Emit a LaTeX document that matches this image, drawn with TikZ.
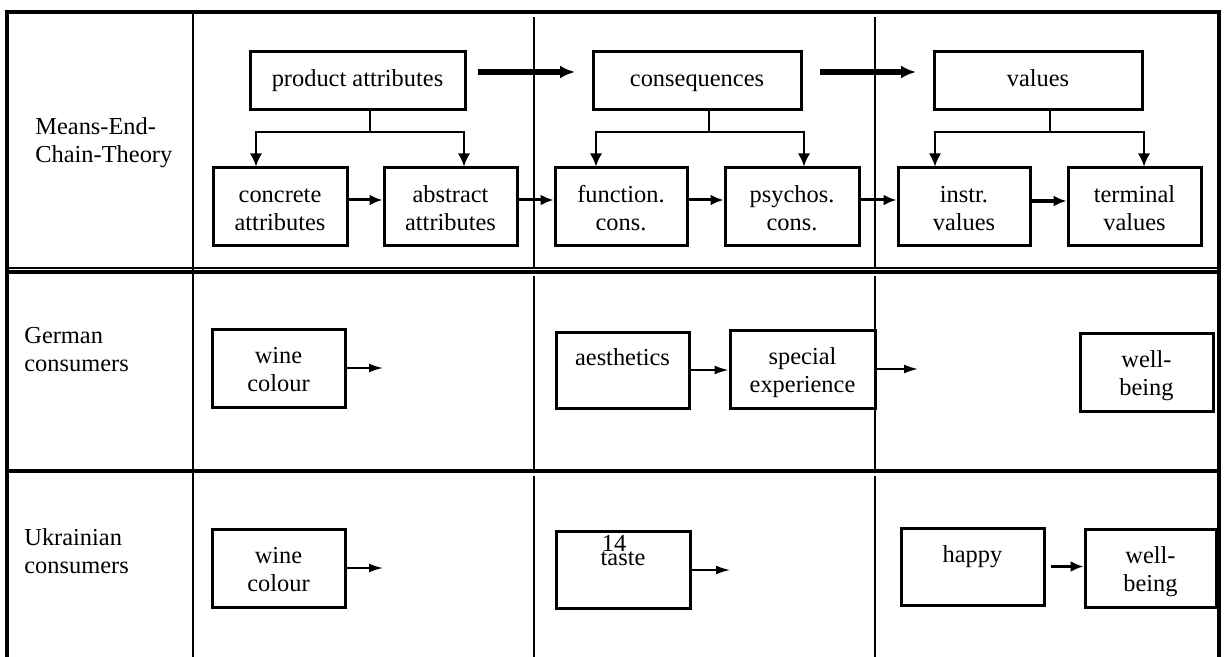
\documentclass[tikz,border=0pt]{standalone}
\usepackage{fontspec}
\setmainfont{Liberation Serif}
\usetikzlibrary{arrows.meta}
\newcommand{\boxlines}[2]{\rule{0pt}{13.8pt}#1\\#2\rule[-4.2pt]{0pt}{4.2pt}}

\begin{document}
\begin{tikzpicture}[x=0.5pt,y=-0.5pt,font=\fontsize{12.2}{14}\selectfont,
    box/.style={draw,line width=1.5pt,align=center,inner sep=0pt,
      minimum width=66.5pt,minimum height=39pt},
    bigbox/.style={draw,line width=1.5pt,inner sep=0pt,
      minimum width=104pt,minimum height=29pt,
      execute at begin node=\strut},
    rowlabel/.style={anchor=west,align=left,inner sep=0pt},
    frame/.style={line width=2pt},
    sep/.style={line width=2.4pt},
    grid/.style={line width=0.6pt},
    fork/.style={line width=0.8pt},
    bigarrow/.style={-{Latex[length=7.5pt,width=6.5pt]},line width=2.6pt},
    droparrow/.style={-{Latex[length=6.5pt,width=6pt]},line width=0.8pt},
    linkarrow/.style={-{Latex[length=6.5pt,width=5.5pt]},line width=1.5pt},
    thinarrow/.style={-{Latex[length=7pt,width=4.5pt]},line width=0.9pt}]
  \useasboundingbox (0,0) rectangle (1224,657);

  % table lines
  \draw[frame] (7,657) -- (7,12) -- (1219,12) -- (1219,657);
  \draw[grid] (7,268) -- (1219,268);
  \draw[sep] (7,272) -- (1219,272);
  \draw[sep] (7,471) -- (1219,471);
  \draw[grid] (193,12) -- (193,657);
  \foreach \x in {534,875} {
    \draw[grid] (\x,17) -- (\x,268);
    \draw[grid] (\x,276) -- (\x,469);
    \draw[grid] (\x,476) -- (\x,657);
  }

  % row labels
  \node[rowlabel] (mect) at (35,143) {Means-End-\\Chain-Theory};
  \node[rowlabel] (german) at (24,350) {German\\consumers};
  \node[rowlabel] (ukrain) at (24,551) {Ukrainian\\consumers};

  % means-end chain
  \node[bigbox,minimum width=107.5pt] (pa) at (357.5,81) {product attributes};
  \node[bigbox] (cq) at (697,81) {consequences};
  \node[bigbox] (va) at (1038,81) {values};
  \node[box,minimum width=67pt] (ca) at (280,207) {\boxlines{concrete}{attributes}};
  \node[box] (aa) at (450.5,207) {\boxlines{abstract}{attributes}};
  \node[box,minimum width=66pt] (fc) at (621,207) {\boxlines{function.}{cons.}};
  \node[box,minimum width=67pt] (pc) at (792,207) {\boxlines{psychos.}{cons.}};
  \node[box,minimum width=66pt] (iv) at (964,207) {\boxlines{instr.}{values}};
  \node[box] (tv) at (1134.5,207) {\boxlines{terminal}{values}};

  \coordinate (paOut) at (478,72);
  \coordinate (cqIn) at (575,72);
  \coordinate (cqOut) at (820,72);
  \coordinate (vaIn) at (916,72);
  \draw[bigarrow] (paOut) -- (cqIn);
  \draw[bigarrow] (cqOut) -- (vaIn);

  \coordinate (paFork) at (370,132);
  \coordinate (cqFork) at (709,132);
  \coordinate (vaFork) at (1050,132);
  \draw[fork] (pa.south -| paFork) -- (paFork);
  \draw[droparrow] (paFork) -| ([xshift=-12pt]ca.north);
  \draw[droparrow] (paFork) -| ([xshift=6.75pt]aa.north);
  \draw[fork] (cq.south -| cqFork) -- (cqFork);
  \draw[droparrow] (cqFork) -| ([xshift=-12.5pt]fc.north);
  \draw[droparrow] (cqFork) -| ([xshift=6pt]pc.north);
  \draw[fork] (va.south -| vaFork) -- (vaFork);
  \draw[droparrow] (vaFork) -| ([xshift=-14.5pt]iv.north);
  \draw[droparrow] (vaFork) -| ([xshift=4.75pt]tv.north);

  \draw[linkarrow] ([yshift=3.5pt]ca.east) -- ([yshift=3.5pt]aa.west);
  \draw[linkarrow] ([yshift=3.5pt]aa.east) -- ([yshift=3.5pt]fc.west);
  \draw[linkarrow] ([yshift=3.5pt]fc.east) -- ([yshift=3.5pt]pc.west);
  \draw[linkarrow] ([yshift=3.5pt]pc.east) -- ([yshift=3.5pt]iv.west);
  \draw[linkarrow,line width=2pt] ([yshift=3pt]iv.east) -- ([yshift=3pt]tv.west);

  % German consumers
  \node[box] (gwine) at (278.5,368) {\boxlines{wine}{colour}};
  \node[box,minimum height=38pt] (gaes) at (622.5,370) {\boxlines{aesthetics}{~}};
  \node[box,minimum width=72.5pt] (gspec) at (802.5,369) {\boxlines{special}{experience}};
  \node[box] (gwell) at (1146.5,372) {\boxlines{well-}{being}};
  \coordinate (gwineEnd) at (383,368);
  \coordinate (gspecEnd) at (918,369);
  \draw[thinarrow] (gwine.east) -- (gwineEnd);
  \draw[thinarrow] (gaes.east) -- (gaes.east -| gspec.west);
  \draw[thinarrow] (gspec.east) -- (gspecEnd);

  % Ukrainian consumers
  \node[box] (uwine) at (278.5,568) {\boxlines{wine}{colour}};
  \node[box,minimum width=67pt,minimum height=38.5pt] (utaste) at (623,569.5) {\boxlines{taste}{~}};
  \node (pageno) at (614,543) {14};
  \node[box,minimum width=71.5pt,minimum height=38.5pt] (uhappy) at (972.5,566.5) {\boxlines{happy}{~}};
  \node[box,minimum width=65.5pt] (uwell) at (1150.5,568) {\boxlines{well-}{being}};
  \coordinate (uwineEnd) at (383,568);
  \coordinate (utasteEnd) at (730,570);
  \draw[thinarrow] (uwine.east) -- (uwineEnd);
  \draw[thinarrow] (utaste.east |- utasteEnd) -- (utasteEnd);
  \draw[linkarrow,line width=1.8pt] ([xshift=2.5pt]uhappy.east) -- (uhappy.east -| uwell.west);
\end{tikzpicture}
\end{document}
